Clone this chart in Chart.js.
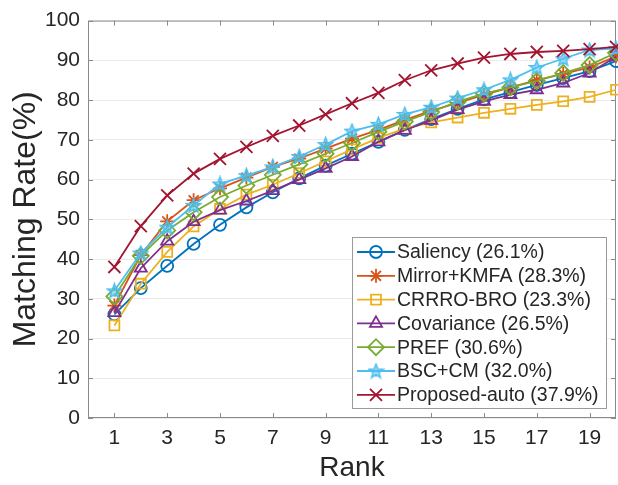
<!DOCTYPE html>
<html><head><meta charset="utf-8">
<script src="https://cdn.jsdelivr.net/npm/chart.js@4/dist/chart.umd.min.js"></script>
<style>html,body{margin:0;padding:0;background:#fff}</style>
</head><body>
<canvas id="c" width="618" height="485"></canvas>
<script>
// ---- data ----
const ranks = [1,2,3,4,5,6,7,8,9,10,11,12,13,14,15,16,17,18,19,20];
const xTickLabels = [1,3,5,7,9,11,13,15,17,19];
const yTickValues = [0,10,20,30,40,50,60,70,80,90,100];
const seriesNames = ['Saliency (26.1%)','Mirror+KMFA (28.3%)','CRRRO-BRO (23.3%)','Covariance (26.5%)','PREF (30.6%)','BSC+CM (32.0%)','Proposed-auto (37.9%)'];
const saliency   = [26.1,32.7,38.3,43.8,48.6,53.0,56.8,60.3,63.5,66.5,69.5,72.5,75.2,77.8,80.2,82.0,83.8,85.5,87.3,89.8];
const mirrorKmfa = [28.3,41.0,49.5,54.8,57.8,60.5,63.2,65.3,67.8,70.3,72.5,75.0,77.3,79.3,81.3,83.2,85.0,86.6,88.2,91.0];
const crrroBro   = [23.3,33.8,41.8,48.2,52.6,56.2,58.7,61.6,64.6,67.6,70.5,72.8,74.4,75.6,76.8,77.8,78.8,79.7,80.8,82.6];
const covariance = [26.5,37.7,44.5,49.4,52.3,54.6,57.2,60.0,62.8,65.8,69.5,72.4,74.9,77.6,79.7,81.4,82.6,84.3,86.8,90.9];
const pref       = [30.6,40.8,47.2,51.8,55.6,58.5,61.2,63.8,66.5,69.2,72.0,74.6,77.0,79.6,81.6,83.2,84.8,86.8,88.8,91.9];
const bscCm      = [32.0,41.5,48.0,53.5,58.9,61.0,63.2,65.8,68.8,72.2,73.9,76.4,78.2,80.5,82.6,85.1,88.2,90.4,92.6,93.0];
const proposed   = [38.0,48.3,56.0,61.5,65.2,68.2,71.0,73.6,76.4,79.2,81.8,85.0,87.5,89.2,90.7,91.6,92.1,92.4,92.8,93.4];

// ---- styles ----
const colors = ['#0072BD','#D95319','#EDB120','#7E2F8E','#77AC30','#4DBEEE','#A2142F'];
const FONT = "'Liberation Sans', Arial, Helvetica, sans-serif";
const TEXT = '#262626';
const AXIS = '#8a8a8a';

function pentagram(color){
  const c = document.createElement('canvas');
  c.width = 17; c.height = 17;
  const g = c.getContext('2d');
  const cx = 8.5, cy = 9, R = 7.5, r = 3.2;
  g.beginPath();
  for (let i = 0; i < 10; i++) {
    const a = -Math.PI/2 + i*Math.PI/5;
    const rr = i % 2 ? r : R;
    const x = cx + rr*Math.cos(a), y = cy + rr*Math.sin(a);
    i ? g.lineTo(x,y) : g.moveTo(x,y);
  }
  g.closePath();
  g.fillStyle = 'rgba(77,190,238,0.55)';
  g.fill();
  g.strokeStyle = color; g.lineWidth = 1.5; g.stroke();
  return c;
}
const starImg = pentagram(colors[5]);
const pointStyles = ['circle','star','rect','triangle','rectRot',starImg,'crossRot'];
const pointRadii  = [6,7,7,7,8,7,8.5];
const seriesData = [saliency, mirrorKmfa, crrroBro, covariance, pref, bscCm, proposed];

const datasets = seriesData.map((arr,i)=>({
  label: seriesNames[i],
  data: arr.map((v,k)=>({x: ranks[k], y: v})),
  borderColor: colors[i],
  backgroundColor: 'rgba(0,0,0,0)',
  pointBorderColor: colors[i],
  pointBackgroundColor: 'rgba(0,0,0,0)',
  borderWidth: 1.8,
  pointBorderWidth: 1.8,
  pointStyle: pointStyles[i],
  pointRadius: pointRadii[i],
  tension: 0,
  clip: false,
  order: seriesData.length - 1 - i
}));

const framePlugin = {
  id: 'frame',
  beforeDatasetsDraw(chart){
    const {ctx, chartArea: a, scales: {x, y}} = chart;
    ctx.save();
    ctx.strokeStyle = AXIS; ctx.lineWidth = 1;
    ctx.strokeRect(a.left+0.5, a.top+0.5, a.right-a.left-1, a.bottom-a.top-1);
    ctx.beginPath();
    const tl = 5;
    xTickLabels.forEach(v=>{
      const px = Math.round(x.getPixelForValue(v))+0.5;
      ctx.moveTo(px, a.bottom); ctx.lineTo(px, a.bottom-tl);
      ctx.moveTo(px, a.top); ctx.lineTo(px, a.top+tl);
    });
    yTickValues.forEach(v=>{
      const py = Math.round(y.getPixelForValue(v))+0.5;
      ctx.moveTo(a.left, py); ctx.lineTo(a.left+tl, py);
      ctx.moveTo(a.right, py); ctx.lineTo(a.right-tl, py);
    });
    ctx.stroke();
    ctx.restore();
  },
  afterDraw(chart){
    const ctx = chart.ctx;
    const bx = 352, by = 237, bw = 254, bh = 171;
    ctx.save();
    ctx.fillStyle = '#fff';
    ctx.fillRect(bx, by, bw, bh);
    ctx.strokeStyle = '#9a9a9a'; ctx.lineWidth = 1;
    ctx.strokeRect(bx+0.5, by+0.5, bw, bh);
    const rowH = 23.8, y0 = by + 15;
    chart.data.datasets.forEach((ds,i)=>{
      const yy = y0 + i*rowH;
      ctx.strokeStyle = ds.borderColor; ctx.lineWidth = 1.8;
      ctx.beginPath(); ctx.moveTo(357, yy); ctx.lineTo(395, yy); ctx.stroke();
      ctx.fillStyle = 'rgba(0,0,0,0)';
      ctx.strokeStyle = ds.borderColor;
      Chart.helpers.drawPoint(ctx, {pointStyle: ds.pointStyle, radius: ds.pointRadius, rotation: 0, borderWidth: 1.8}, 376, yy);
      ctx.fillStyle = TEXT;
      ctx.font = '19.5px ' + FONT;
      ctx.textBaseline = 'middle';
      ctx.textAlign = 'left';
      ctx.fillText(ds.label, 397, yy + 1);
    });
    ctx.restore();
  }
};

new Chart(document.getElementById('c'), {
  type: 'line',
  data: { datasets },
  options: {
    responsive: false,
    devicePixelRatio: 1,
    animation: false,
    layout: { autoPadding: false, padding: { top: 17, right: 2, left: 0, bottom: 0 } },
    plugins: { legend: { display: false }, tooltip: { enabled: false } },
    scales: {
      x: {
        type: 'linear', min: 0, max: 20,
        afterBuildTicks(scale){ scale.ticks = xTickLabels.map(v=>({value: v})); },
        afterFit(scale){ scale.height = 67; },
        grid: { display: false, drawTicks: false },
        border: { display: false },
        ticks: { color: TEXT, font: { family: FONT, size: 21 }, padding: 8, maxRotation: 0, autoSkip: false,
                 callback: v => String(v) },
        title: { display: true, text: 'Rank', color: TEXT, font: { family: FONT, size: 28 }, padding: { top: 0, bottom: 0 } }
      },
      y: {
        min: 0, max: 100,
        afterBuildTicks(scale){ scale.ticks = yTickValues.map(v=>({value: v})); },
        afterFit(scale){ scale.width = 88; },
        grid: { color: '#ebebeb', drawTicks: false, lineWidth: 1 },
        border: { display: false },
        ticks: { color: TEXT, font: { family: FONT, size: 21 }, padding: 8 },
        title: { display: true, text: 'Matching Rate(%)', color: TEXT, font: { family: FONT, size: 32 }, padding: { top: 7, bottom: 0 } }
      }
    }
  },
  plugins: [framePlugin]
});
</script>
</body></html>
